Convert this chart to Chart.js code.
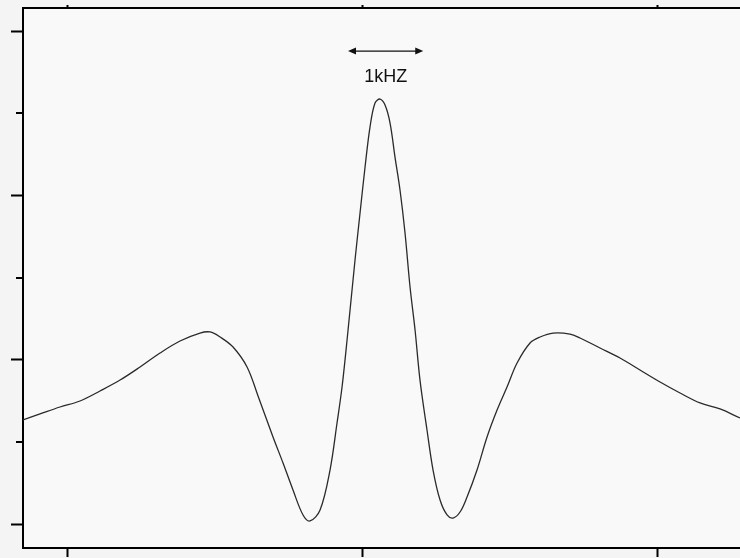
<!DOCTYPE html>
<html>
<head>
<meta charset="utf-8">
<script src="https://cdn.jsdelivr.net/npm/chart.js@4/dist/chart.umd.min.js"></script>
<style>
  body { margin: 0; background: #f4f4f4; }
  #wrap { width: 740px; height: 558px; }
</style>
</head>
<body>
<div id="wrap"><canvas id="chart"></canvas></div>
<script>
// frequency offset (kHz) and response
const freqs = [
  -4.597, -4.366, -4.095, -3.824, -3.553, -3.281, -3.010, -2.739, -2.468, -2.197,
  -2.061, -1.925, -1.749, -1.559, -1.410, -1.207, -1.071, -0.936, -0.800, -0.705,
  -0.569, -0.434, -0.339, -0.271, -0.203, -0.095, -0.027, 0.041, 0.108, 0.176,
  0.244, 0.312, 0.380, 0.447, 0.515, 0.583, 0.651, 0.719, 0.786, 0.881,
  0.963, 1.058, 1.153, 1.234, 1.329, 1.424, 1.559, 1.695, 1.831, 1.966,
  2.102, 2.278, 2.414, 2.590, 2.820, 2.956, 3.227, 3.498, 3.769, 4.041,
  4.312, 4.583, 4.854, 5.125
];
const response = [
  1.266, 1.339, 1.424, 1.497, 1.619, 1.752, 1.911, 2.081, 2.227, 2.324,
  2.337, 2.276, 2.154, 1.911, 1.558, 1.059, 0.742, 0.414, 0.110, 0.037,
  0.170, 0.657, 1.229, 1.667, 2.239, 3.213, 3.785, 4.345, 4.831, 5.124,
  5.172, 5.099, 4.880, 4.466, 4.065, 3.542, 2.884, 2.361, 1.752, 1.144,
  0.657, 0.292, 0.110, 0.073, 0.146, 0.329, 0.657, 1.059, 1.387, 1.667,
  1.959, 2.203, 2.276, 2.324, 2.312, 2.264, 2.142, 2.020, 1.874, 1.728,
  1.594, 1.473, 1.400, 1.290
];
const xTicks = [-4, 0, 4];
const yTicks = [0, 1, 2, 3, 4, 5, 6];

const spanLabel = "1kHZ";
const spanStart = -0.19;
const spanEnd = 0.83;
const spanY = 5.756;
const labelY = 5.44;

const points = freqs.map((f, i) => ({ x: f, y: response[i] }));

const plotDecor = {
  id: "plotDecor",
  beforeDraw(chart) {
    const { ctx, chartArea } = chart;
    ctx.save();
    ctx.fillStyle = "#f9f9f9";
    ctx.fillRect(chartArea.left, chartArea.top, chartArea.right - chartArea.left, chartArea.bottom - chartArea.top);
    ctx.restore();
  },
  afterDraw(chart) {
    const { ctx, chartArea } = chart;
    const x = chart.scales.x;
    const y = chart.scales.y;
    ctx.save();

    // short minor ticks on the left axis
    ctx.strokeStyle = "#000";
    ctx.lineWidth = 2;
    yTicks.filter((v) => v % 2 === 1).forEach((v) => {
      const py = Math.round(y.getPixelForValue(v));
      ctx.beginPath();
      ctx.moveTo(chartArea.left - 7, py);
      ctx.lineTo(chartArea.left, py);
      ctx.stroke();
    });

    // 1 kHz span arrow
    const ax1 = x.getPixelForValue(spanStart);
    const ax2 = x.getPixelForValue(spanEnd);
    const ay = y.getPixelForValue(spanY);
    ctx.strokeStyle = "#111";
    ctx.fillStyle = "#111";
    ctx.lineWidth = 1.2;
    ctx.beginPath();
    ctx.moveTo(ax1 + 4, ay);
    ctx.lineTo(ax2 - 4, ay);
    ctx.stroke();
    ctx.beginPath();
    ctx.moveTo(ax1, ay);
    ctx.lineTo(ax1 + 8, ay - 3.5);
    ctx.lineTo(ax1 + 8, ay + 3.5);
    ctx.closePath();
    ctx.fill();
    ctx.beginPath();
    ctx.moveTo(ax2, ay);
    ctx.lineTo(ax2 - 8, ay - 3.5);
    ctx.lineTo(ax2 - 8, ay + 3.5);
    ctx.closePath();
    ctx.fill();

    ctx.fillStyle = "#111";
    ctx.font = "18px 'Liberation Sans', Arial, sans-serif";
    ctx.textAlign = "center";
    ctx.textBaseline = "middle";
    ctx.fillText(spanLabel, (ax1 + ax2) / 2, y.getPixelForValue(labelY));
    ctx.restore();
  },
};

const xAxis = (pos, len) => ({
  type: "linear",
  position: pos,
  min: -4.597,
  max: 5.125,
  afterBuildTicks: (axis) => {
    axis.ticks = xTicks.map((v) => ({ value: v }));
  },
  ticks: { display: false },
  grid: {
    drawOnChartArea: false,
    drawTicks: true,
    tickLength: len,
    tickWidth: 2,
    tickColor: "#000",
  },
  border: { display: true, color: "#000", width: 2 },
});

new Chart(document.getElementById("chart"), {
  type: "line",
  data: {
    datasets: [
      {
        data: points,
        borderColor: "#2a2a2a",
        borderWidth: 1.3,
        pointRadius: 0,
        tension: 0.35,
      },
    ],
  },
  options: {
    responsive: true,
    maintainAspectRatio: false,
    animation: false,
    layout: { padding: { left: 11, right: 0, top: 5, bottom: 1 } },
    plugins: {
      legend: { display: false },
      tooltip: { enabled: false },
    },
    scales: {
      x: xAxis("bottom", 9),
      x2: xAxis("top", 3),
      y: {
        type: "linear",
        min: -0.292,
        max: 6.28,
        afterBuildTicks: (axis) => {
          axis.ticks = yTicks.map((v) => ({ value: v }));
        },
        ticks: { display: false },
        grid: {
          drawOnChartArea: false,
          drawTicks: true,
          tickLength: 12,
          tickWidth: 2,
          tickColor: (c) => (c.tick && c.tick.value % 2 === 0 ? "#000" : "rgba(0,0,0,0)"),
        },
        border: { display: true, color: "#000", width: 2 },
      },
    },
  },
  plugins: [plotDecor],
});
</script>
</body>
</html>
